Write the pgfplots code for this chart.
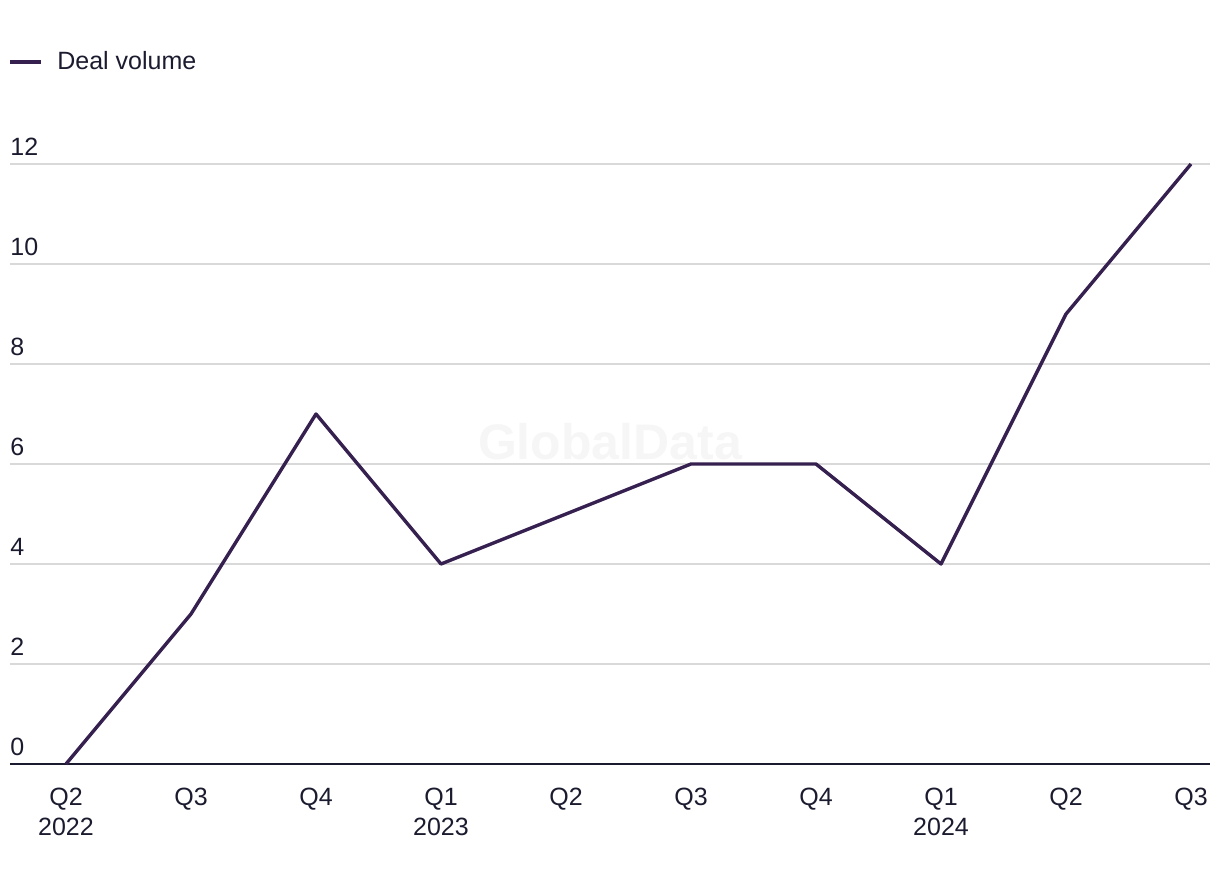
\documentclass[border=0pt]{standalone}
\usepackage{pgfplots}
\pgfplotsset{compat=1.18}
\usepackage{fontspec}
\setmainfont{Liberation Sans}
\definecolor{linecol}{HTML}{35204F}
\definecolor{txtcol}{HTML}{1B1B2F}
\definecolor{gridcol}{HTML}{D9D9D9}
\definecolor{wmcol}{HTML}{F6F6F6}
\begin{document}
\fontsize{12.5pt}{15pt}\selectfont
\begin{tikzpicture}
\begin{axis}[
  at={(5pt,60pt)}, anchor=south west,
  scale only axis, width=600pt, height=300pt,
  xmin=-0.448, xmax=9.152, ymin=0, ymax=12,
  clip=false,
  /pgf/number format/assume math mode=true,
  axis x line*=bottom, axis y line*=left,
  x axis line style={draw=txtcol, line width=1pt, -},
  y axis line style={draw=none},
  major tick length=0pt,
  xtick={0,...,9},
  xticklabels={{Q2\\2022},Q3,Q4,{Q1\\2023},Q2,Q3,Q4,{Q1\\2024},Q2,Q3},
  xticklabel style={align=center, anchor=north, inner sep=0pt, yshift=-12pt, text=txtcol, font=\fontsize{12.5pt}{15pt}\selectfont},
  ytick={0,2,...,12},
  ymajorgrids, grid style={draw=gridcol, line width=0.75pt},
  yticklabel style={anchor=south west, inner sep=0pt, yshift=4pt, text=txtcol, font=\fontsize{12.5pt}{15pt}\selectfont},
  legend style={draw=none, fill=none, inner sep=0pt, at={(0,1.17)}, anchor=west, xshift=-1pt,
    nodes={inner sep=0pt, text=txtcol}, font=\fontsize{12.5pt}{15pt}\selectfont,
    /tikz/every odd column/.append style={column sep=7pt}},
  legend image code/.code={\draw[#1, line width=2pt] (0pt,0pt) -- (15.5pt,0pt);},
]
\node[text=wmcol, font=\fontsize{25pt}{30pt}\selectfont\bfseries] at (axis cs:4.352,6.44) {GlobalData};
\addplot[linecol, line width=1.7pt, line join=round] coordinates {
  (0,0) (1,3) (2,7) (3,4) (4,5) (5,6) (6,6) (7,4) (8,9) (9,12)
};
\addlegendentry{Deal volume}
\end{axis}
\pgfresetboundingbox
\path[use as bounding box] (0,0) rectangle (610pt,442pt);
\end{tikzpicture}
\end{document}
